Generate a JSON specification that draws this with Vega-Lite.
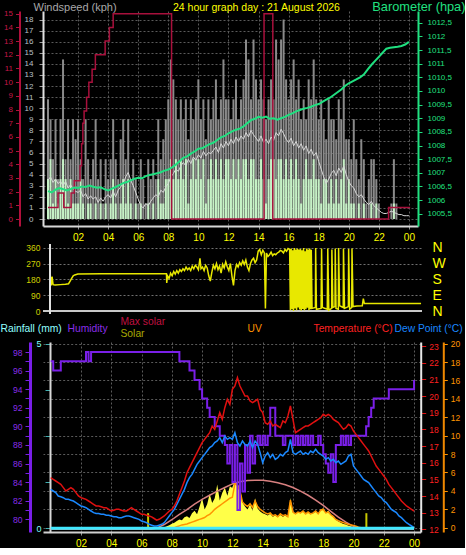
{
"$schema":"https://vega.github.io/schema/vega-lite/v6.json",
"background":"#000000",
"padding":0,
"bounds":"flush",
"spacing":18,
"config":{"view":{"stroke":null},"font":"Liberation Sans","axis":{"labelFont":"Liberation Sans","titleFont":"Liberation Sans","titleFontWeight":"normal","gridColor":"#5a5a5a","gridDash":[2,2],"gridOpacity":1,"labelOverlap":false}},
"datasets":{
"wind":[{"m":0,"g":10.8,"w":3.6,"a":3.5},{"m":10,"g":9,"w":5.4,"a":3.8},{"m":20,"g":5.4,"w":1.4,"a":3.3},{"m":30,"g":9,"w":3.6,"a":3.6},{"m":40,"g":3.6,"w":1.4,"a":3.2},{"m":50,"g":9,"w":3.6,"a":3.4},
{"m":60,"g":14.4,"w":5.4,"a":3.0},{"m":70,"g":5.4,"w":3.6,"a":3.4},{"m":80,"g":9,"w":1.4,"a":2.8},{"m":90,"g":5.4,"w":3.6,"a":3.1},{"m":100,"g":9,"w":1.4,"a":2.7},{"m":110,"g":7.2,"w":1.4,"a":2.5},
{"m":120,"g":9,"w":1.4,"a":2.4},{"m":130,"g":5.4,"w":3.6,"a":2.6},{"m":140,"g":3.6,"w":1.4,"a":2.0},{"m":150,"g":9,"w":0,"a":2.3},{"m":160,"g":5.4,"w":1.4,"a":1.8},{"m":170,"g":3.6,"w":1.4,"a":2.1},
{"m":180,"g":5.4,"w":0,"a":1.8},{"m":190,"g":9,"w":1.4,"a":2.0},{"m":200,"g":3.6,"w":0,"a":1.5},{"m":210,"g":5.4,"w":1.4,"a":1.9},{"m":220,"g":1.4,"w":0,"a":1.6},{"m":230,"g":5.4,"w":1.4,"a":2.0},
{"m":240,"g":3.6,"w":0,"a":2.2},{"m":250,"g":5.4,"w":1.4,"a":1.9},{"m":260,"g":9,"w":3.6,"a":2.5},{"m":270,"g":5.4,"w":1.4,"a":2.0},{"m":280,"g":3.6,"w":0,"a":2.6},{"m":290,"g":7.2,"w":1.4,"a":2.9},
{"m":300,"g":9,"w":3.6,"a":3.2},{"m":310,"g":5.4,"w":1.4,"a":3.8},{"m":320,"g":9,"w":3.6,"a":4.2},{"m":330,"g":3.6,"w":1.4,"a":3.5},{"m":340,"g":5.4,"w":0,"a":3.0},{"m":350,"g":3.6,"w":1.4,"a":2.4},
{"m":360,"g":1.4,"w":0,"a":1.8},{"m":370,"g":5.4,"w":1.4,"a":1.2},{"m":380,"g":3.6,"w":0,"a":1.0},{"m":390,"g":1.4,"w":0,"a":1.4},{"m":400,"g":5.4,"w":1.4,"a":1.2},{"m":410,"g":3.6,"w":0,"a":1.6},
{"m":420,"g":5.4,"w":1.4,"a":1.9},{"m":430,"g":3.6,"w":0,"a":2.2},{"m":440,"g":9,"w":3.6,"a":2.0},{"m":450,"g":5.4,"w":1.4,"a":2.6},{"m":460,"g":7.2,"w":1.4,"a":2.4},{"m":470,"g":9,"w":3.6,"a":2.9},
{"m":480,"g":10.8,"w":3.6,"a":3.2},{"m":490,"g":14.4,"w":5.4,"a":3.8},{"m":500,"g":12.6,"w":3.6,"a":4.1},{"m":510,"g":10.8,"w":5.4,"a":4.5},{"m":520,"g":9,"w":3.6,"a":4.3},{"m":530,"g":10.8,"w":5.4,"a":4.8},
{"m":540,"g":9,"w":3.6,"a":5.1},{"m":550,"g":10.8,"w":5.4,"a":4.8},{"m":560,"g":7.2,"w":1.4,"a":5.4},{"m":570,"g":10.8,"w":3.6,"a":5.0},{"m":580,"g":9,"w":5.4,"a":5.6},{"m":590,"g":10.8,"w":3.6,"a":5.3},
{"m":600,"g":12.6,"w":5.4,"a":5.8},{"m":610,"g":9,"w":3.6,"a":5.5},{"m":620,"g":10.8,"w":5.4,"a":6.1},{"m":630,"g":7.2,"w":1.4,"a":5.7},{"m":640,"g":10.8,"w":3.6,"a":6.0},{"m":650,"g":9,"w":5.4,"a":5.9},
{"m":660,"g":10.8,"w":3.6,"a":6.2},{"m":670,"g":12.6,"w":5.4,"a":6.5},{"m":680,"g":9,"w":3.6,"a":6.0},{"m":690,"g":10.8,"w":5.4,"a":6.8},{"m":700,"g":14.4,"w":3.6,"a":6.4},{"m":710,"g":10.8,"w":5.4,"a":7.0},
{"m":720,"g":10.8,"w":5.4,"a":6.6},{"m":730,"g":9,"w":3.6,"a":7.2},{"m":740,"g":10.8,"w":5.4,"a":6.8},{"m":750,"g":12.6,"w":3.6,"a":7.4},{"m":760,"g":9,"w":5.4,"a":7.0},{"m":770,"g":10.8,"w":3.6,"a":7.5},
{"m":780,"g":12.6,"w":5.4,"a":7.2},{"m":790,"g":16.2,"w":5.4,"a":7.8},{"m":800,"g":14.4,"w":3.6,"a":7.4},{"m":810,"g":10.8,"w":5.4,"a":8.0},{"m":820,"g":16.2,"w":5.4,"a":7.6},{"m":830,"g":12.6,"w":3.6,"a":7.3},
{"m":840,"g":10.8,"w":3.6,"a":7.0},{"m":850,"g":12.6,"w":5.4,"a":7.5},{"m":860,"g":10.8,"w":3.6,"a":6.9},{"m":870,"g":9,"w":1.4,"a":7.2},{"m":880,"g":10.8,"w":3.6,"a":6.8},{"m":890,"g":12.6,"w":5.4,"a":7.4},
{"m":900,"g":10.8,"w":5.4,"a":7.1},{"m":910,"g":16.2,"w":3.6,"a":7.8},{"m":920,"g":14.4,"w":5.4,"a":7.5},{"m":930,"g":16.2,"w":5.4,"a":8.1},{"m":940,"g":18,"w":3.6,"a":7.7},{"m":950,"g":12.6,"w":5.4,"a":7.2},
{"m":960,"g":10.8,"w":3.6,"a":6.9},{"m":970,"g":12.6,"w":5.4,"a":7.3},{"m":980,"g":14.4,"w":3.6,"a":6.6},{"m":990,"g":10.8,"w":5.4,"a":7.0},{"m":1000,"g":12.6,"w":3.6,"a":6.4},{"m":1010,"g":9,"w":1.4,"a":6.8},
{"m":1020,"g":10.8,"w":3.6,"a":6.2},{"m":1030,"g":9,"w":5.4,"a":6.6},{"m":1040,"g":12.6,"w":3.6,"a":5.9},{"m":1050,"g":10.8,"w":3.6,"a":6.3},{"m":1060,"g":14.4,"w":5.4,"a":5.7},{"m":1070,"g":10.8,"w":3.6,"a":6.0},
{"m":1080,"g":9,"w":3.6,"a":5.2},{"m":1090,"g":10.8,"w":1.4,"a":4.5},{"m":1100,"g":9,"w":3.6,"a":3.8},{"m":1110,"g":7.2,"w":3.6,"a":3.2},{"m":1120,"g":10.8,"w":1.4,"a":3.6},{"m":1130,"g":9,"w":3.6,"a":4.1},
{"m":1140,"g":9,"w":1.4,"a":4.4},{"m":1150,"g":7.2,"w":3.6,"a":3.9},{"m":1160,"g":10.8,"w":1.4,"a":4.6},{"m":1170,"g":9,"w":3.6,"a":4.2},{"m":1180,"g":12.6,"w":5.4,"a":4.8},{"m":1190,"g":7.2,"w":1.4,"a":4.0},
{"m":1200,"g":7.2,"w":3.6,"a":3.4},{"m":1210,"g":5.4,"w":1.4,"a":3.0},{"m":1220,"g":9,"w":1.4,"a":2.8},{"m":1230,"g":5.4,"w":0,"a":2.3},{"m":1240,"g":3.6,"w":1.4,"a":2.0},{"m":1250,"g":7.2,"w":0,"a":2.2},
{"m":1260,"g":5.4,"w":1.4,"a":1.8},{"m":1270,"g":1.4,"w":0,"a":1.5},{"m":1280,"g":3.6,"w":0,"a":1.3},{"m":1290,"g":5.4,"w":1.4,"a":1.6},{"m":1300,"g":5.4,"w":0,"a":1.2},{"m":1310,"g":3.6,"w":1.4,"a":1.0},
{"m":1320,"g":1.4,"w":0,"a":0.8},{"m":1330,"g":0,"w":0,"a":0.6},{"m":1340,"g":0,"w":0,"a":0.5},{"m":1350,"g":0,"w":0,"a":0.5},{"m":1360,"g":0,"w":0,"a":0.6},{"m":1370,"g":1.4,"w":0,"a":0.7},
{"m":1380,"g":5.4,"w":1.4,"a":0.6},{"m":1390,"g":1.4,"w":0,"a":0.5},{"m":1400,"g":0,"w":0,"a":0.4},{"m":1410,"g":0,"w":0,"a":0.4},{"m":1420,"g":0,"w":0,"a":0.3},{"m":1430,"g":0,"w":0,"a":0.3},
{"m":1440,"g":0,"w":0,"a":0.3}],
"crim":[{"m":0,"v":0.85},{"m":40,"v":1.9},{"m":63,"v":0.85},{"m":92,"v":1.9},{"m":105,"v":2.8},{"m":128,"v":3.9},{"m":134,"v":5.5},{"m":139,"v":7},{"m":144,"v":7.9},{"m":154,"v":8.9},{"m":163,"v":10},{"m":176,"v":10.95},{"m":189,"v":12},{"m":228,"v":13},{"m":245,"v":14},{"m":260,"v":15},{"m":493,"v":0},{"m":862,"v":15},{"m":897,"v":0},{"m":1359,"v":0.85},{"m":1445,"v":0.85}],
"baro":[{"m":0,"p":1006.33},{"m":15,"p":1006.28},{"m":30,"p":1006.38},{"m":45,"p":1006.44},{"m":60,"p":1006.4},{"m":75,"p":1006.35},{"m":90,"p":1006.4},{"m":105,"p":1006.46},{"m":120,"p":1006.44},{"m":135,"p":1006.5},{"m":150,"p":1006.48},{"m":165,"p":1006.53},{"m":180,"p":1006.49},{"m":195,"p":1006.45},{"m":210,"p":1006.47},{"m":225,"p":1006.4},{"m":240,"p":1006.35},{"m":255,"p":1006.42},{"m":270,"p":1006.48},{"m":285,"p":1006.55},{"m":300,"p":1006.62},{"m":315,"p":1006.66},{"m":330,"p":1006.72},{"m":345,"p":1006.78},{"m":360,"p":1006.82},{"m":375,"p":1006.8},{"m":390,"p":1006.88},{"m":405,"p":1006.92},{"m":420,"p":1006.95},{"m":435,"p":1006.98},{"m":450,"p":1007.02},{"m":465,"p":1007.08},{"m":480,"p":1007.12},{"m":495,"p":1007.2},{"m":510,"p":1007.3},{"m":525,"p":1007.42},{"m":540,"p":1007.55},{"m":555,"p":1007.6},{"m":570,"p":1007.7},{"m":585,"p":1007.78},{"m":600,"p":1007.88},{"m":615,"p":1007.9},{"m":630,"p":1007.98},{"m":645,"p":1008.05},{"m":660,"p":1008.1},{"m":675,"p":1008.2},{"m":690,"p":1008.3},{"m":705,"p":1008.35},{"m":720,"p":1008.45},{"m":735,"p":1008.52},{"m":750,"p":1008.58},{"m":765,"p":1008.62},{"m":780,"p":1008.7},{"m":795,"p":1008.82},{"m":810,"p":1008.93},{"m":825,"p":1008.98},{"m":840,"p":1009.05},{"m":855,"p":1009.02},{"m":870,"p":1009.06},{"m":885,"p":1008.98},{"m":900,"p":1009.0},{"m":915,"p":1008.95},{"m":930,"p":1009.0},{"m":945,"p":1009.05},{"m":960,"p":1009.12},{"m":975,"p":1009.18},{"m":990,"p":1009.25},{"m":1005,"p":1009.3},{"m":1020,"p":1009.35},{"m":1035,"p":1009.38},{"m":1050,"p":1009.42},{"m":1065,"p":1009.48},{"m":1080,"p":1009.52},{"m":1095,"p":1009.6},{"m":1110,"p":1009.68},{"m":1125,"p":1009.75},{"m":1140,"p":1009.85},{"m":1155,"p":1009.95},{"m":1170,"p":1010.05},{"m":1185,"p":1010.18},{"m":1200,"p":1010.28},{"m":1215,"p":1010.35},{"m":1230,"p":1010.42},{"m":1245,"p":1010.5},{"m":1260,"p":1010.6},{"m":1275,"p":1010.78},{"m":1290,"p":1010.95},{"m":1305,"p":1011.1},{"m":1320,"p":1011.25},{"m":1335,"p":1011.4},{"m":1350,"p":1011.55},{"m":1365,"p":1011.58},{"m":1380,"p":1011.6},{"m":1395,"p":1011.62},{"m":1410,"p":1011.65},{"m":1425,"p":1011.7},{"m":1440,"p":1011.8}],
"dir":[{"m":0,"d":220},{"m":5,"d":145},{"m":8,"d":195},{"m":12,"d":150},{"m":20,"d":148},{"m":40,"d":150},{"m":60,"d":152},{"m":72,"d":155},{"m":78,"d":170},{"m":84,"d":185},{"m":90,"d":200},{"m":96,"d":205},{"m":108,"d":210},{"m":200,"d":212},{"m":300,"d":212},{"m":400,"d":212},{"m":452,"d":212},{"m":453,"d":160},{"m":456,"d":200},{"m":462,"d":185},{"m":468,"d":215},{"m":474,"d":200},{"m":480,"d":225},{"m":486,"d":210},{"m":492,"d":230},{"m":498,"d":215},{"m":504,"d":235},{"m":510,"d":225},{"m":516,"d":240},{"m":522,"d":230},{"m":528,"d":250},{"m":534,"d":235},{"m":540,"d":245},{"m":546,"d":230},{"m":552,"d":255},{"m":558,"d":240},{"m":564,"d":260},{"m":570,"d":250},{"m":576,"d":235},{"m":582,"d":300},{"m":586,"d":240},{"m":592,"d":250},{"m":598,"d":230},{"m":604,"d":260},{"m":610,"d":245},{"m":616,"d":200},{"m":622,"d":170},{"m":628,"d":220},{"m":634,"d":260},{"m":640,"d":240},{"m":646,"d":270},{"m":652,"d":235},{"m":658,"d":255},{"m":664,"d":215},{"m":670,"d":265},{"m":676,"d":245},{"m":682,"d":280},{"m":688,"d":250},{"m":694,"d":230},{"m":700,"d":270},{"m":706,"d":200},{"m":712,"d":145},{"m":718,"d":230},{"m":724,"d":265},{"m":730,"d":250},{"m":736,"d":275},{"m":742,"d":260},{"m":748,"d":285},{"m":754,"d":265},{"m":760,"d":290},{"m":766,"d":250},{"m":772,"d":230},{"m":778,"d":270},{"m":784,"d":290},{"m":790,"d":300},{"m":796,"d":275},{"m":802,"d":290},{"m":808,"d":340},{"m":814,"d":350},{"m":820,"d":320},{"m":826,"d":345},{"m":832,"d":330},{"m":836,"d":15},{"m":840,"d":330},{"m":846,"d":310},{"m":852,"d":320},{"m":858,"d":335},{"m":864,"d":315},{"m":870,"d":325},{"m":876,"d":320},{"m":882,"d":330},{"m":888,"d":335},{"m":894,"d":345},{"m":900,"d":340},{"m":906,"d":330},{"m":912,"d":350},{"m":918,"d":340},{"m":924,"d":355},{"m":930,"d":350},{"m":933,"d":5},{"m":936,"d":355},{"m":939,"d":10},{"m":942,"d":345},{"m":945,"d":0},{"m":948,"d":358},{"m":951,"d":15},{"m":954,"d":350},{"m":957,"d":5},{"m":960,"d":355},{"m":963,"d":20},{"m":966,"d":350},{"m":969,"d":8},{"m":972,"d":352},{"m":975,"d":3},{"m":978,"d":345},{"m":981,"d":12},{"m":984,"d":358},{"m":987,"d":5},{"m":990,"d":340},{"m":993,"d":10},{"m":996,"d":355},{"m":999,"d":18},{"m":1002,"d":350},{"m":1005,"d":4},{"m":1008,"d":356},{"m":1011,"d":10},{"m":1014,"d":348},{"m":1017,"d":15},{"m":1030,"d":20},{"m":1031,"d":358},{"m":1034,"d":10},{"m":1052,"d":15},{"m":1054,"d":355},{"m":1057,"d":20},{"m":1076,"d":10},{"m":1078,"d":355},{"m":1082,"d":5},{"m":1093,"d":15},{"m":1094,"d":350},{"m":1098,"d":20},{"m":1106,"d":25},{"m":1107,"d":355},{"m":1110,"d":15},{"m":1119,"d":10},{"m":1120,"d":358},{"m":1124,"d":30},{"m":1138,"d":20},{"m":1139,"d":355},{"m":1143,"d":15},{"m":1158,"d":25},{"m":1159,"d":352},{"m":1163,"d":10},{"m":1171,"d":20},{"m":1172,"d":355},{"m":1176,"d":25},{"m":1191,"d":28},{"m":1212,"d":30},{"m":1216,"d":70},{"m":1220,"d":42},{"m":1300,"d":42},{"m":1440,"d":42}],
"th":[{"m":0,"t":15.1,"d":14.4,"hu":97},{"m":10,"t":15.0,"d":14.3,"hu":96},{"m":20,"t":14.9,"d":14.2,"hu":96},{"m":30,"t":14.8,"d":14.0,"hu":96},{"m":40,"t":14.7,"d":13.95,"hu":97},{"m":50,"t":14.5,"d":13.9,"hu":97},
{"m":60,"t":14.3,"d":13.8,"hu":97},{"m":70,"t":14.4,"d":13.8,"hu":97},{"m":80,"t":14.5,"d":13.75,"hu":97},{"m":90,"t":14.4,"d":13.7,"hu":97},{"m":100,"t":14.2,"d":13.6,"hu":97},{"m":110,"t":14.0,"d":13.5,"hu":97},
{"m":120,"t":13.9,"d":13.4,"hu":97},{"m":130,"t":13.85,"d":13.35,"hu":97},{"m":140,"t":13.8,"d":13.3,"hu":98},{"m":150,"t":13.7,"d":13.2,"hu":97},{"m":160,"t":13.6,"d":13.1,"hu":98},{"m":170,"t":13.5,"d":13.0,"hu":98},
{"m":180,"t":13.4,"d":12.95,"hu":98},{"m":190,"t":13.4,"d":12.95,"hu":98},{"m":200,"t":13.35,"d":12.9,"hu":98},{"m":210,"t":13.3,"d":12.9,"hu":98},{"m":220,"t":13.3,"d":12.85,"hu":98},{"m":230,"t":13.2,"d":12.85,"hu":98},
{"m":240,"t":13.1,"d":12.8,"hu":98},{"m":250,"t":13.15,"d":12.75,"hu":98},{"m":260,"t":13.2,"d":12.75,"hu":98},{"m":270,"t":13.2,"d":12.7,"hu":98},{"m":280,"t":13.15,"d":12.7,"hu":98},{"m":290,"t":13.1,"d":12.75,"hu":98},
{"m":300,"t":13.1,"d":12.8,"hu":98},{"m":310,"t":13.2,"d":12.8,"hu":98},{"m":320,"t":13.3,"d":12.75,"hu":98},{"m":330,"t":13.2,"d":12.7,"hu":98},{"m":340,"t":13.1,"d":12.65,"hu":98},{"m":350,"t":13.0,"d":12.6,"hu":98},
{"m":360,"t":12.9,"d":12.5,"hu":98},{"m":370,"t":12.9,"d":12.45,"hu":98},{"m":380,"t":12.85,"d":12.4,"hu":98},{"m":390,"t":12.8,"d":12.3,"hu":98},{"m":400,"t":12.75,"d":12.25,"hu":98},{"m":410,"t":12.65,"d":12.2,"hu":98},
{"m":420,"t":12.55,"d":12.2,"hu":98},{"m":430,"t":12.6,"d":12.25,"hu":98},{"m":440,"t":12.7,"d":12.3,"hu":98},{"m":450,"t":12.8,"d":12.4,"hu":98},{"m":460,"t":12.95,"d":12.6,"hu":98},{"m":470,"t":13.1,"d":12.8,"hu":98},
{"m":480,"t":13.2,"d":13.0,"hu":98},{"m":490,"t":13.4,"d":13.2,"hu":98},{"m":500,"t":13.7,"d":13.5,"hu":98},{"m":510,"t":14.1,"d":13.8,"hu":97},{"m":520,"t":14.5,"d":14.1,"hu":97},{"m":530,"t":14.9,"d":14.4,"hu":97},
{"m":540,"t":15.4,"d":14.8,"hu":97},{"m":550,"t":15.7,"d":15.1,"hu":96},{"m":560,"t":16.0,"d":15.3,"hu":96},{"m":570,"t":16.3,"d":15.6,"hu":95},{"m":580,"t":16.6,"d":15.9,"hu":95},{"m":590,"t":16.9,"d":16.1,"hu":94},
{"m":600,"t":17.2,"d":16.3,"hu":93},{"m":610,"t":17.4,"d":16.5,"hu":93},{"m":620,"t":17.6,"d":16.7,"hu":92},{"m":630,"t":17.8,"d":16.9,"hu":91},{"m":640,"t":18.2,"d":17.0,"hu":91},{"m":650,"t":18.0,"d":17.2,"hu":90},
{"m":660,"t":18.5,"d":17.3,"hu":90},{"m":670,"t":19.0,"d":17.5,"hu":89},{"m":680,"t":18.6,"d":17.2,"hu":89},{"m":690,"t":19.3,"d":17.6,"hu":88},{"m":700,"t":19.8,"d":17.4,"hu":86},{"m":710,"t":19.5,"d":17.5,"hu":88},
{"m":720,"t":20.4,"d":17.4,"hu":84},{"m":730,"t":20.6,"d":17.8,"hu":88},{"m":740,"t":21.1,"d":17.2,"hu":81},{"m":750,"t":20.6,"d":17.0,"hu":86},{"m":760,"t":20.3,"d":17.3,"hu":83},{"m":770,"t":20.0,"d":17.1,"hu":88},
{"m":780,"t":20.0,"d":17.0,"hu":85},{"m":790,"t":19.7,"d":17.3,"hu":89},{"m":800,"t":19.6,"d":16.9,"hu":86},{"m":810,"t":19.7,"d":17.3,"hu":88},{"m":820,"t":19.8,"d":17.1,"hu":89},{"m":830,"t":19.2,"d":16.6,"hu":88},
{"m":840,"t":19.0,"d":16.0,"hu":89},{"m":850,"t":18.4,"d":16.4,"hu":88},{"m":860,"t":18.3,"d":16.6,"hu":89},{"m":870,"t":18.5,"d":16.3,"hu":92},{"m":880,"t":18.2,"d":16.5,"hu":92},{"m":890,"t":18.3,"d":16.2,"hu":89},
{"m":900,"t":18.2,"d":16.3,"hu":89},{"m":910,"t":18.1,"d":16.5,"hu":89},{"m":920,"t":18.5,"d":16.4,"hu":88},{"m":930,"t":18.4,"d":16.6,"hu":89},{"m":940,"t":18.8,"d":16.7,"hu":89},{"m":950,"t":19.4,"d":17.4,"hu":89},
{"m":960,"t":18.6,"d":16.6,"hu":88},{"m":970,"t":17.8,"d":16.5,"hu":89},{"m":980,"t":17.9,"d":16.6,"hu":88},{"m":990,"t":18.0,"d":16.7,"hu":89},{"m":1000,"t":18.1,"d":16.5,"hu":88},{"m":1010,"t":18.2,"d":16.6,"hu":89},
{"m":1020,"t":18.2,"d":16.5,"hu":88},{"m":1030,"t":18.3,"d":16.7,"hu":89},{"m":1040,"t":18.4,"d":16.6,"hu":88},{"m":1050,"t":18.5,"d":16.8,"hu":88},{"m":1060,"t":18.6,"d":16.6,"hu":89},{"m":1070,"t":18.7,"d":16.5,"hu":88},
{"m":1080,"t":18.9,"d":16.4,"hu":87},{"m":1090,"t":18.8,"d":16.2,"hu":86},{"m":1100,"t":18.9,"d":16.3,"hu":85},{"m":1110,"t":18.8,"d":16.1,"hu":87},{"m":1120,"t":18.6,"d":16.2,"hu":84},{"m":1130,"t":18.5,"d":16.0,"hu":88},
{"m":1140,"t":18.4,"d":16.1,"hu":88},{"m":1150,"t":18.2,"d":15.9,"hu":89},{"m":1160,"t":18.0,"d":16.0,"hu":88},{"m":1170,"t":18.1,"d":16.1,"hu":89},{"m":1180,"t":18.3,"d":16.4,"hu":88},{"m":1190,"t":18.2,"d":16.5,"hu":89},
{"m":1200,"t":17.9,"d":15.8,"hu":89},{"m":1210,"t":17.7,"d":15.6,"hu":89},{"m":1220,"t":17.5,"d":15.4,"hu":89},{"m":1230,"t":17.3,"d":15.2,"hu":89},{"m":1240,"t":17.1,"d":15.0,"hu":89},{"m":1250,"t":16.9,"d":14.9,"hu":90},
{"m":1260,"t":16.7,"d":14.8,"hu":91},{"m":1270,"t":16.4,"d":14.6,"hu":92},{"m":1280,"t":16.1,"d":14.4,"hu":93},{"m":1290,"t":15.8,"d":14.2,"hu":93},{"m":1300,"t":15.6,"d":14.0,"hu":93},{"m":1310,"t":15.4,"d":13.9,"hu":93},
{"m":1320,"t":15.2,"d":13.7,"hu":93},{"m":1330,"t":15.0,"d":13.6,"hu":93},{"m":1340,"t":14.7,"d":13.4,"hu":94},{"m":1350,"t":14.5,"d":13.2,"hu":94},{"m":1360,"t":14.3,"d":13.1,"hu":94},{"m":1370,"t":14.1,"d":13.0,"hu":94},
{"m":1380,"t":13.9,"d":12.8,"hu":94},{"m":1390,"t":13.7,"d":12.7,"hu":94},{"m":1400,"t":13.55,"d":12.55,"hu":94},{"m":1410,"t":13.4,"d":12.4,"hu":94},{"m":1420,"t":13.3,"d":12.3,"hu":94},{"m":1430,"t":13.2,"d":12.2,"hu":94},
{"m":1440,"t":13.1,"d":12.1,"hu":95}],
"sol":[{"m":400,"s":0,"uv":0},{"m":410,"s":5,"uv":0},{"m":420,"s":10,"uv":0},{"m":430,"s":15,"uv":0},{"m":440,"s":25,"uv":0},{"m":450,"s":35,"uv":0},{"m":460,"s":50,"uv":0},{"m":470,"s":70,"uv":0},{"m":480,"s":95,"uv":0},{"m":490,"s":110,"uv":0},{"m":500,"s":140,"uv":0.1},{"m":510,"s":165,"uv":0.2},{"m":520,"s":150,"uv":0.3},{"m":530,"s":200,"uv":0.35},{"m":540,"s":220,"uv":0.4},{"m":550,"s":190,"uv":0.5},{"m":560,"s":270,"uv":0.6},{"m":570,"s":310,"uv":0.7},{"m":580,"s":250,"uv":0.8},{"m":590,"s":380,"uv":0.9},{"m":600,"s":520,"uv":1.0},{"m":610,"s":330,"uv":1.1},{"m":620,"s":420,"uv":1.3},{"m":630,"s":590,"uv":1.45},{"m":640,"s":440,"uv":1.7},{"m":650,"s":520,"uv":2.0},{"m":660,"s":750,"uv":2.2},{"m":670,"s":480,"uv":2.4},{"m":680,"s":610,"uv":2.6},{"m":690,"s":700,"uv":2.8},{"m":700,"s":560,"uv":3.0},{"m":710,"s":720,"uv":3.2},{"m":720,"s":690,"uv":3.3},{"m":730,"s":835,"uv":4.8},{"m":740,"s":760,"uv":4.6},{"m":750,"s":700,"uv":4.0},{"m":760,"s":450,"uv":2.8},{"m":770,"s":380,"uv":2.5},{"m":780,"s":330,"uv":2.3},{"m":790,"s":420,"uv":2.6},{"m":800,"s":310,"uv":2.2},{"m":810,"s":520,"uv":2.9},{"m":820,"s":350,"uv":2.3},{"m":830,"s":300,"uv":2.0},{"m":840,"s":270,"uv":1.8},{"m":850,"s":250,"uv":1.6},{"m":860,"s":230,"uv":1.5},{"m":870,"s":260,"uv":1.6},{"m":880,"s":210,"uv":1.3},{"m":890,"s":230,"uv":1.4},{"m":900,"s":200,"uv":1.2},{"m":910,"s":240,"uv":1.5},{"m":920,"s":210,"uv":1.3},{"m":930,"s":230,"uv":1.4},{"m":940,"s":200,"uv":1.2},{"m":950,"s":523,"uv":3.0},{"m":960,"s":280,"uv":1.7},{"m":970,"s":250,"uv":1.5},{"m":980,"s":290,"uv":1.7},{"m":990,"s":270,"uv":1.6},{"m":1000,"s":300,"uv":1.8},{"m":1010,"s":260,"uv":1.5},{"m":1020,"s":280,"uv":1.7},{"m":1030,"s":250,"uv":1.5},{"m":1040,"s":270,"uv":1.6},{"m":1050,"s":300,"uv":1.8},{"m":1060,"s":260,"uv":1.5},{"m":1070,"s":330,"uv":1.9},{"m":1080,"s":350,"uv":2.0},{"m":1090,"s":280,"uv":1.6},{"m":1100,"s":310,"uv":1.7},{"m":1110,"s":250,"uv":1.4},{"m":1120,"s":220,"uv":1.2},{"m":1130,"s":160,"uv":0.9},{"m":1140,"s":130,"uv":0.75},{"m":1150,"s":110,"uv":0.65},{"m":1160,"s":90,"uv":0.55},{"m":1170,"s":80,"uv":0.45},{"m":1180,"s":60,"uv":0.35},{"m":1190,"s":50,"uv":0.3},{"m":1200,"s":40,"uv":0.25},{"m":1210,"s":25,"uv":0.15},{"m":1220,"s":10,"uv":0.05},{"m":1230,"s":5,"uv":0},{"m":1240,"s":0,"uv":0}],
"ms":[{"m":0,"v":0},{"m":400,"v":0},{"m":420,"v":20},{"m":450,"v":80},{"m":480,"v":160},{"m":510,"v":250},{"m":540,"v":330},{"m":570,"v":420},{"m":600,"v":500},{"m":630,"v":570},{"m":660,"v":640},{"m":690,"v":700},{"m":720,"v":760},{"m":750,"v":795},{"m":780,"v":815},{"m":810,"v":822},{"m":840,"v":820},{"m":870,"v":805},{"m":900,"v":780},{"m":930,"v":745},{"m":960,"v":700},{"m":990,"v":640},{"m":1020,"v":570},{"m":1050,"v":490},{"m":1080,"v":400},{"m":1110,"v":300},{"m":1140,"v":205},{"m":1170,"v":120},{"m":1200,"v":50},{"m":1230,"v":5},{"m":1240,"v":0},{"m":1440,"v":0}],
"rain":[{"m":0,"r":0},{"m":1440,"r":0}],
"sun":[{"m":386},{"m":1251}]
},
"vconcat":[
{"width":375,"height":215,
"layer":[
{"data":{"name":"wind"},"mark":{"type":"bar","width":2,"color":"#8a8a8a"},
"encoding":{"x":{"field":"m","type":"quantitative","scale":{"domain":[0,1456.3],"nice":false,"zero":false},
"axis":{"values":[120,240,360,480,600,720,840,960,1080,1200,1320,1440],"tickCount":40,"labelOverlap":false,"labelBound":false,"labelFlush":false,"labelExpr":"datum.value >= 1440 ? '00' : (datum.value < 600 ? '0' + (datum.value / 60) : '' + (datum.value / 60))","labelColor":"#ffff00","labelFontSize":10,"labelPadding":3,"tickSize":3,"tickColor":"#909090","domainColor":"#d8d8d8","domainWidth":2,"grid":true,"title":null}},
"y":{"field":"g","type":"quantitative","scale":{"domain":[-0.63,18.77],"nice":false,"zero":false},
"axis":{"orient":"left","offset":0,"values":[0,1,2,3,4,5,6,7,8,9,10,11,12,13,14,15,16,17,18],"format":"d","labelColor":"#b8c0c8","labelFontSize":8,"tickSize":4,"tickColor":"#a0a0a0","labelPadding":6,"domainColor":"#e0e0e0","domainWidth":2,"grid":true,"title":"Windspeed (kph)","titleAngle":0,"titleAlign":"left","titleBaseline":"alphabetic","titleX":-10,"titleY":-1,"titleColor":"#a8a8a8","titleFontSize":11}}}},
{"data":{"name":"wind"},"mark":{"type":"bar","width":2,"color":"#c6f2c6"},
"encoding":{"x":{"field":"m","type":"quantitative"},"y":{"field":"w","type":"quantitative","scale":{"domain":[-0.63,18.77],"nice":false,"zero":false},"axis":null}}},
{"data":{"name":"wind"},"mark":{"type":"line","color":"#d8d8d8","strokeWidth":1},
"encoding":{"x":{"field":"m","type":"quantitative"},"y":{"field":"a","type":"quantitative","scale":{"domain":[-0.63,18.77],"nice":false,"zero":false},"axis":null}}},
{"data":{"name":"crim"},"mark":{"type":"line","color":"#a8103c","strokeWidth":1.5,"interpolate":"step-after"},
"encoding":{"x":{"field":"m","type":"quantitative"},"y":{"field":"v","type":"quantitative","scale":{"domain":[-0.51,15.2],"nice":false,"zero":false},
"axis":{"orient":"left","offset":23.5,"values":[0,1,2,3,4,5,6,7,8,9,10,11,12,13,14,15],"format":"d","labelColor":"#c8184a","labelFontSize":8,"tickSize":4,"tickColor":"#b0103c","domainColor":"#b0103c","domainWidth":2,"labelPadding":3,"grid":false,"title":"24 hour graph day : 21 August 2026","titleAngle":0,"titleAlign":"left","titleBaseline":"alphabetic","titleX":153,"titleY":-1,"titleColor":"#ffff00","titleFontSize":10.5}}}},
{"data":{"name":"baro"},"mark":{"type":"line","color":"#20e080","strokeWidth":2},
"encoding":{"x":{"field":"m","type":"quantitative"},"y":{"field":"p","type":"quantitative","scale":{"domain":[1005.05,1012.93],"nice":false,"zero":false},
"axis":{"orient":"right","offset":0,"values":[1005.5,1006,1006.5,1007,1007.5,1008,1008.5,1009,1009.5,1010,1010.5,1011,1011.5,1012,1012.5],"labelExpr":"datum.value % 1 == 0 ? format(datum.value, 'd') : replace(format(datum.value, '.1f'), '.', ',')","labelColor":"#20e080","labelFontSize":8,"tickSize":4,"tickColor":"#20e080","domainColor":"#20e080","domainWidth":2,"labelPadding":5,"grid":false,"title":"Barometer (hpa)","titleAngle":0,"titleAlign":"right","titleBaseline":"alphabetic","titleX":47,"titleY":-1,"titleColor":"#20e080","titleFontSize":12.8}}}}
],
"resolve":{"scale":{"y":"independent"}}},
{"width":379,"height":80,
"layer":[
{"data":{"values":[{}]},"mark":{"type":"rule","color":"#c8c8c8","strokeWidth":2},
"encoding":{"y":{"datum":0,"type":"quantitative","scale":{"domain":[-73.9,381],"nice":false,"zero":false},
"axis":{"orient":"right","offset":0,"values":[0,90,180,270,360],"labelExpr":"datum.value == 0 ? 'N' : datum.value == 90 ? 'E' : datum.value == 180 ? 'S' : datum.value == 270 ? 'W' : 'N'","labelColor":"#ffff00","labelFontSize":14,"labelAlign":"left","ticks":false,"tickSize":0,"labelPadding":10,"domain":false,"grid":false,"title":null}}}},
{"data":{"name":"dir"},"mark":{"type":"line","color":"#e8e800","strokeWidth":1.5},
"encoding":{"x":{"field":"m","type":"quantitative","scale":{"domain":[-27.2,1443.7],"nice":false,"zero":false},"axis":null},
"y":{"field":"d","type":"quantitative","scale":{"domain":[-73.9,381],"nice":false,"zero":false},
"axis":{"orient":"left","offset":-6,"values":[0,90,180,270,360],"format":"d","labelColor":"#d0d000","labelFontSize":8.5,"ticks":false,"tickSize":0,"labelPadding":9,"domain":false,"grid":true,"gridColor":"#707070","title":null}}}},
{"data":{"values":[{}]},"mark":{"type":"rule","color":"#e0e0e0","strokeWidth":2},
"encoding":{"x":{"datum":0,"type":"quantitative"},"y":{"datum":-17,"type":"quantitative","scale":{"domain":[-73.9,381],"nice":false,"zero":false},"axis":null},"y2":{"datum":381}}}
],
"resolve":{"scale":{"y":"independent"}}},
{"width":377.7,"height":190,
"layer":[
{"data":{"name":"sol"},"mark":{"type":"area","color":"#ffff48"},
"encoding":{"x":{"field":"m","type":"quantitative","scale":{"domain":[-30.5,1466.3],"nice":false,"zero":false},
"axis":{"values":[120,240,360,480,600,720,840,960,1080,1200,1320,1440],"tickCount":40,"labelOverlap":false,"labelBound":false,"labelFlush":false,"labelExpr":"datum.value >= 1440 ? '00' : (datum.value < 600 ? '0' + (datum.value / 60) : '' + (datum.value / 60))","labelColor":"#ffff00","labelFontSize":10,"labelPadding":3,"tickSize":3,"tickColor":"#909090","domainColor":"#d0d0d0","domainWidth":2,"grid":true,"title":null}},
"y":{"field":"s","type":"quantitative","scale":{"domain":[-45,3134],"nice":false,"zero":false},
"axis":{"orient":"left","offset":0,"labels":false,"ticks":false,"domain":false,"grid":false,"title":"Solar","titleAngle":0,"titleAlign":"left","titleBaseline":"alphabetic","titleX":77,"titleY":-5.5,"titleColor":"#a8a800","titleFontSize":10.3}}}},
{"data":{"name":"ms"},"mark":{"type":"line","color":"#d88080","strokeWidth":1.5},
"encoding":{"x":{"field":"m","type":"quantitative"},"y":{"field":"v","type":"quantitative","scale":{"domain":[-45,3134],"nice":false,"zero":false},
"axis":{"orient":"left","offset":0,"labels":false,"ticks":false,"domain":false,"grid":false,"title":"Max solar","titleAngle":0,"titleAlign":"left","titleBaseline":"alphabetic","titleX":77,"titleY":-18,"titleColor":"#c01040","titleFontSize":10.3}}}},
{"data":{"name":"sol"},"mark":{"type":"line","color":"#ff9400","strokeWidth":1.5},
"encoding":{"x":{"field":"m","type":"quantitative"},"y":{"field":"uv","type":"quantitative","scale":{"domain":[-0.47,20.18],"nice":false,"zero":false},
"axis":{"orient":"right","offset":22.6,"values":[0,2,4,6,8,10,12,14,16,18,20],"format":"d","labelColor":"#ff9400","labelFontSize":8.5,"tickSize":4,"tickColor":"#ff9400","domainColor":"#f08800","domainWidth":2,"labelPadding":3,"grid":true,"gridColor":"#5a5a5a","title":"UV","titleAngle":0,"titleAlign":"left","titleBaseline":"alphabetic","titleX":-196.3,"titleY":-10.5,"titleColor":"#ff9400","titleFontSize":10.3}}}},
{"data":{"name":"sun"},"mark":{"type":"rule","color":"#c8c800","strokeWidth":2},
"encoding":{"x":{"field":"m","type":"quantitative"},"y":{"datum":0,"type":"quantitative","scale":{"domain":[-45,3134],"nice":false,"zero":false},"axis":null},"y2":{"datum":270}}},
{"data":{"name":"th"},"mark":{"type":"line","color":"#7a1fe8","strokeWidth":2,"interpolate":"step-after"},
"encoding":{"x":{"field":"m","type":"quantitative"},"y":{"field":"hu","type":"quantitative","scale":{"domain":[78.63,99.08],"nice":false,"zero":false},
"axis":{"orient":"left","offset":13,"values":[80,81,82,83,84,85,86,87,88,89,90,91,92,93,94,95,96,97,98],"labelExpr":"datum.value % 2 == 0 ? format(datum.value, 'd') : ''","labelColor":"#8a2ee8","labelFontSize":8.5,"tickSize":5,"tickColor":"#7a1fe8","domainColor":"#7a1fe8","domainWidth":3,"labelPadding":3,"grid":false,"title":"Humidity","titleAngle":0,"titleAlign":"left","titleBaseline":"alphabetic","titleX":37,"titleY":-10.5,"titleColor":"#8a2ee8","titleFontSize":10.3}}}},
{"data":{"name":"th"},"mark":{"type":"line","color":"#1a88ff","strokeWidth":1.5},
"encoding":{"x":{"field":"m","type":"quantitative"},"y":{"field":"d","type":"quantitative","scale":{"domain":[11.84,23.24],"nice":false,"zero":false},
"axis":{"orient":"right","offset":0,"labels":false,"ticks":false,"domain":false,"grid":false,"title":"Dew Point (°C)","titleAngle":0,"titleAlign":"left","titleBaseline":"alphabetic","titleX":-26.7,"titleY":-10.5,"titleColor":"#1a88ff","titleFontSize":10.3}}}},
{"data":{"name":"th"},"mark":{"type":"line","color":"#e01010","strokeWidth":1.5},
"encoding":{"x":{"field":"m","type":"quantitative"},"y":{"field":"t","type":"quantitative","scale":{"domain":[11.84,23.24],"nice":false,"zero":false},
"axis":{"orient":"right","offset":0,"values":[12,13,14,15,16,17,18,19,20,21,22,23],"format":"d","labelColor":"#ff2020","labelFontSize":8.5,"tickSize":5,"tickColor":"#e01010","domainColor":"#e8e8e8","domainWidth":2,"labelPadding":3,"grid":false,"title":"Temperature (°C)","titleAngle":0,"titleAlign":"left","titleBaseline":"alphabetic","titleX":-107.7,"titleY":-10.5,"titleColor":"#ff2020","titleFontSize":10.3}}}},
{"data":{"name":"rain"},"mark":{"type":"line","color":"#40e8ff","strokeWidth":3},
"encoding":{"x":{"field":"m","type":"quantitative"},"y":{"field":"r","type":"quantitative","scale":{"domain":[-0.1,5.046],"nice":false,"zero":false},
"axis":{"orient":"left","offset":-7,"values":[0,1.25,2.5,3.75,5],"labelExpr":"datum.value == 0 || datum.value == 5 ? format(datum.value, 'd') : ''","labelColor":"#80ffff","labelFontSize":9,"tickSize":5,"tickColor":"#40b0b0","domainColor":"#d8d8d8","domainWidth":2,"labelPadding":4,"grid":false,"title":"Rainfall (mm)","titleAngle":0,"titleAlign":"left","titleBaseline":"alphabetic","titleX":-50,"titleY":-10.5,"titleColor":"#90ffff","titleFontSize":10.3}}}}
],
"resolve":{"scale":{"y":"independent"}}}
]
}
